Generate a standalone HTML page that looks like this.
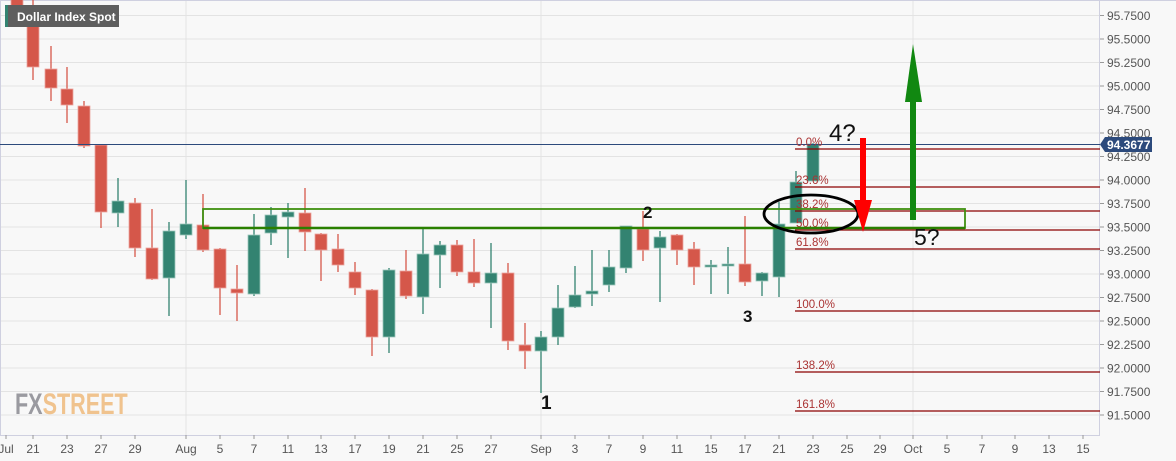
<!DOCTYPE html>
<html><head><meta charset="utf-8"><style>
html,body{margin:0;padding:0;background:#f8f8f8;}
svg{display:block;font-family:"Liberation Sans",Arial,sans-serif;}
</style></head><body>
<svg id="s" width="1176" height="461" viewBox="0 0 1176 461" xmlns="http://www.w3.org/2000/svg">
<rect width="1176" height="461" fill="#f8f8f8"/>
<g id="grid"></g>
<g id="c"></g>
<g id="ov"></g>
</svg>
<script>
const NS="http://www.w3.org/2000/svg";
function el(p,t,a,txt){const e=document.createElementNS(NS,t);for(const k in a)e.setAttribute(k,a[k]);if(txt!==undefined)e.textContent=txt;document.getElementById(p).appendChild(e);return e;}
const Y=p=>415-(p-91.5)*94;
for(let i=0;i<=17;i++){const p=91.5+i*0.25,y=Y(p);
 el('grid','line',{x1:0,x2:1099,y1:y,y2:y,stroke:'#e3e3e3','stroke-width':1});
 el('grid','line',{x1:1099,x2:1104,y1:y,y2:y,stroke:'#999'});
 el('grid','text',{x:1107,y:y+4.5,'font-size':12,fill:'#555'},p.toFixed(4));}
[186,541,913].forEach(x=>el('grid','line',{x1:x,x2:x,y1:0,y2:435,stroke:'#e3e3e3'}));
el('grid','line',{x1:1099.5,x2:1099.5,y1:0,y2:435,stroke:'#cfd0e0'});
el('grid','line',{x1:0,x2:1100,y1:435.5,y2:435.5,stroke:'#cfd0e0'});
el('grid','line',{x1:0,x2:1176,y1:0.5,y2:0.5,stroke:'#cfd0e0'});
el('grid','line',{x1:0.5,x2:0.5,y1:0,y2:435,stroke:'#cfd0e0'});
const xl=[[6,'Jul'],[33,'21'],[67,'23'],[101,'27'],[135,'29'],[186,'Aug'],[220,'5'],[254,'7'],[288,'11'],[321,'13'],[355,'17'],[389,'19'],[423,'21'],[457,'25'],[491,'27'],[541,'Sep'],[575,'3'],[609,'7'],[643,'9'],[677,'11'],[711,'15'],[745,'17'],[779,'21'],[813,'23'],[847,'25'],[880,'29'],[913,'Oct'],[947,'5'],[982,'7'],[1015,'9'],[1049,'13'],[1083,'15']];
xl.forEach(([x,t])=>{el('grid','line',{x1:x,x2:x,y1:435,y2:439,stroke:'#999'});el('grid','text',{x:x,y:453,'font-size':12,fill:'#555','text-anchor':'middle'},t);});
const C=[[17,-5,12,-5,10,0],[33,0,80,18,67,0],[51,46,101,69,88,0],[67,67,123,89,105,0],[84,101,148,106,146,0],[101,145,228,145,212,0],[118,178,227,201,213,1],[135,198,257,203,248,0],[152,209,280,248,279,0],[169,222,316,231,278,1],[186,180,239,224,235,1],[203,194,252,225,250,0],[220,248,315,249,288,0],[237,265,321,289,293,0],[254,214,296,235,294,1],[271,207,245,215,233,1],[288,203,258,212,217,1],[305,188,251,213,232,0],[321,233,281,234,250,0],[338,234,272,249,265,0],[355,262,295,272,288,0],[372,289,356,290,337,0],[389,268,353,270,337,1],[406,250,299,271,296,0],[423,228,314,254,297,1],[440,241,288,245,255,1],[457,240,276,245,272,0],[474,239,287,272,283,0],[491,243,328,273,283,1],[508,263,350,273,341,0],[525,323,369,345,351,0],[541,331,393,337,351,1],[558,285,345,308,337,1],[575,266,308,295,307,1],[592,250,306,291,294,1],[609,250,292,267,285,1],[626,226,273,226,268,1],[643,211,261,229,250,0],[660,231,302,237,248,1],[677,234,265,235,250,0],[694,242,285,249,267,0],[711,260,294,265,267,1],[728,247,294,264,266,1],[745,216,286,264,282,0],[762,272,296,273,281,1],[779,202,297,224,277,1],[796,171,223,182,223,1],[813,143,181,144,181,1]];
C.forEach(([x,wt,wb,bt,bb,g])=>{const col=g?'#338371':'#d5574a';
 el('c','line',{x1:x,x2:x,y1:wt,y2:wb,stroke:col,'stroke-width':1.3});
 el('c','rect',{x:x-6,y:bt,width:12,height:Math.max(2,bb-bt),fill:col,stroke:g?'#9cc7bb':'#eba59e','stroke-width':0.8});});
el('ov','line',{x1:0,x2:1100,y1:144.5,y2:144.5,stroke:'#2c4a7c','stroke-width':1});
[['0.0%',149],['23.6%',187],['38.2%',211],['50.0%',230],['61.8%',249],['100.0%',311],['138.2%',372],['161.8%',411]].forEach(([t,y])=>{
 el('ov','line',{x1:795,x2:1100,y1:y,y2:y,stroke:'#8b0000','stroke-width':1.2});
 el('ov','text',{x:796,y:y-3,'font-size':11.5,fill:'#a33'},t);});
el('ov','rect',{x:203,y:209,width:762,height:19,fill:'none',stroke:'#3f8f10','stroke-width':1.8});
el('ov','line',{x1:203,x2:965,y1:228,y2:228,stroke:'#2a8000','stroke-width':2.5});
el('ov','ellipse',{cx:811,cy:214,rx:47,ry:19,fill:'none',stroke:'#000','stroke-width':2.8});
el('ov','rect',{x:860,y:138,width:6,height:64,fill:'#f00'});
el('ov','polygon',{points:'854,200 872,200 863,232',fill:'#f00'});
el('ov','rect',{x:910,y:100,width:6,height:120,fill:'#118811'});
el('ov','polygon',{points:'905,102 922,102 913,44',fill:'#118811'});
el('ov','text',{x:829,y:141,'font-size':24,fill:'#111'},'4?');
el('ov','text',{x:914,y:245,'font-size':23,fill:'#111'},'5?');
el('ov','text',{x:643,y:218,'font-size':17,'font-weight':'bold',fill:'#111'},'2');
el('ov','text',{x:743,y:322,'font-size':17,'font-weight':'bold',fill:'#111'},'3');
el('ov','text',{x:541,y:409,'font-size':19,'font-weight':'bold',fill:'#111'},'1');
el('ov','polygon',{points:'1100,144.5 1105,137 1152,137 1152,152 1105,152',fill:'#2c4a7c'});
el('ov','text',{x:1107,y:149,'font-size':12,'font-weight':'bold',fill:'#fff'},'94.3677');
el('ov','rect',{x:5,y:5,width:114,height:22,fill:'#5e5e5e'});
el('ov','rect',{x:5,y:5,width:3,height:22,fill:'#338371'});
el('ov','text',{x:17,y:21,'font-size':12,'font-weight':'bold',fill:'#fff'},'Dollar Index Spot');
const t=el('ov','text',{x:15,y:414,'font-size':30,'font-weight':'bold',fill:'#9a9aa0',transform:'translate(15 414) scale(0.72 1) translate(-15 -414)'});
const a=document.createElementNS(NS,'tspan');a.textContent='FX';t.appendChild(a);
const b=document.createElementNS(NS,'tspan');b.setAttribute('fill','#f0c38e');b.textContent='STREET';t.appendChild(b);
</script>
</body></html>
